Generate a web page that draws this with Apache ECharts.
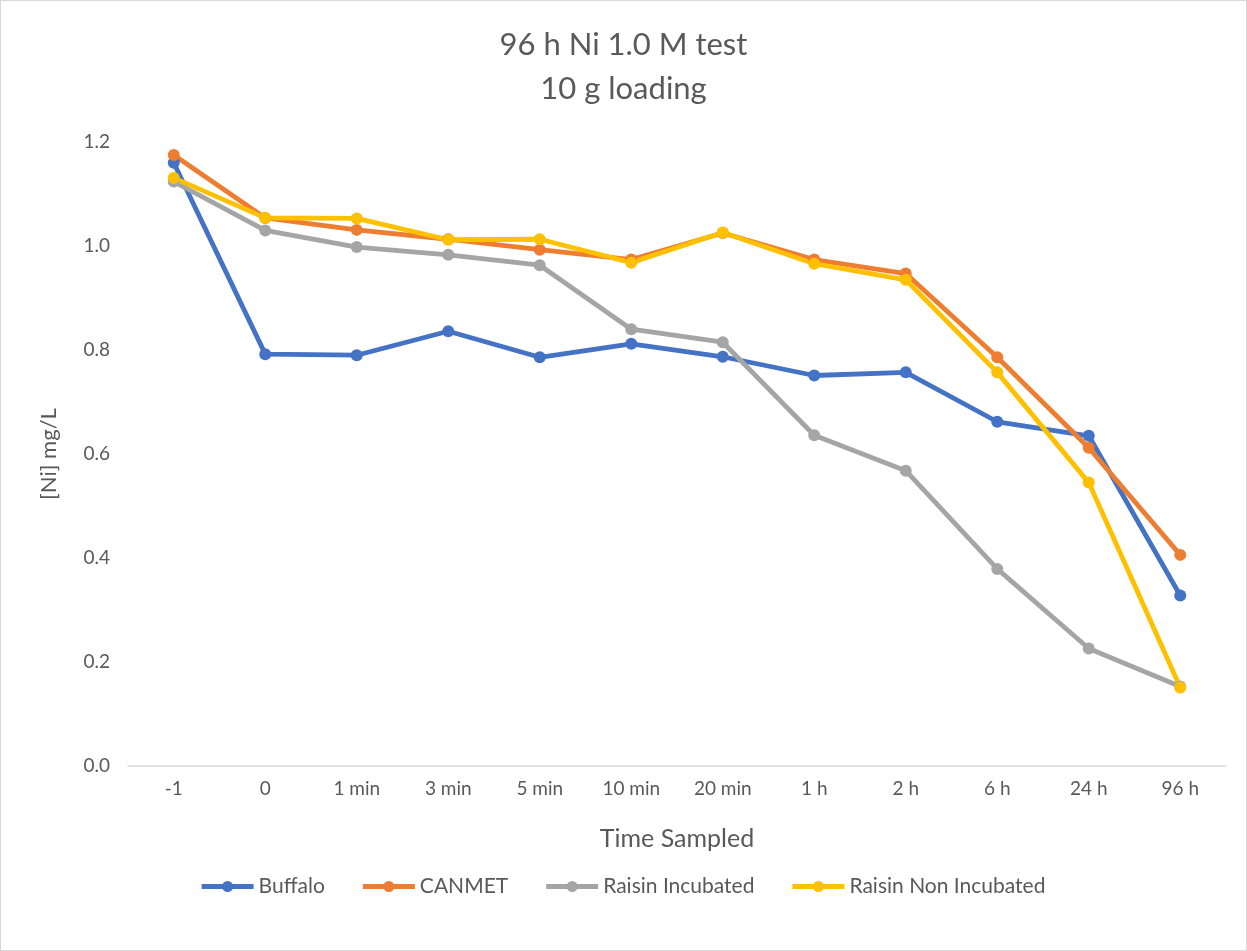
<!DOCTYPE html>
<html>
<head>
<meta charset="utf-8">
<script src="https://cdn.jsdelivr.net/npm/echarts@6/dist/echarts.min.js"></script>
<style>
html,body{margin:0;padding:0;background:#fff;}
#wrap{position:absolute;left:0;top:0;width:1245px;height:949px;border:1px solid #d9d9d9;}
#chart{width:1245px;height:949px;}
</style>
</head>
<body>
<div id="wrap"><div id="chart"></div></div>
<script>
const categories = ['-1','0','1 min','3 min','5 min','10 min','20 min','1 h','2 h','6 h','24 h','96 h'];
const buffalo = [1.160,0.792,0.790,0.836,0.786,0.812,0.787,0.751,0.757,0.662,0.635,0.328];
const canmet = [1.175,1.054,1.031,1.013,0.993,0.974,1.025,0.974,0.947,0.786,0.612,0.406];
const raisinInc = [1.124,1.030,0.998,0.983,0.963,0.840,0.815,0.636,0.568,0.379,0.226,0.153];
const raisinNonInc = [1.131,1.054,1.053,1.012,1.013,0.968,1.026,0.966,0.935,0.757,0.545,0.151];
const yTicks = [0,0.2,0.4,0.6,0.8,1.0,1.2];

const FONT = 'Lato, "Open Sans", sans-serif';
const TXT = '#595959';
const LEG_ICON = 'path://M0,3.6H52V8.4H0Z M20.5,6a5.5,5.5 0 1,1 11,0a5.5,5.5 0 1,1 -11,0Z';
function mk(name, data, color){
  return {name, type:'line', data, symbol:'circle', symbolSize:12,
    lineStyle:{width:4.8,color}, itemStyle:{color}, emphasis:{disabled:true}};
}
const chart = echarts.init(document.getElementById('chart'));
chart.setOption({
  animation:false,
  textStyle:{fontFamily:FONT},
  title:{text:'96 h Ni 1.0 M test\n10 g loading', left:'center', top:17,
    textStyle:{fontFamily:FONT, fontSize:31, fontWeight:'normal', color:TXT, lineHeight:44}},
  grid:{left:127, right:20, top:141, bottom:184},
  xAxis:{type:'category', data:categories, boundaryGap:true,
    axisLine:{lineStyle:{color:'#d9d9d9', width:1.5}}, axisTick:{show:false},
    axisLabel:{color:TXT, fontSize:19, margin:13, fontFamily:FONT},
    name:'Time Sampled', nameLocation:'middle', nameGap:60,
    nameTextStyle:{color:TXT, fontSize:25, fontFamily:FONT}},
  yAxis:{type:'value', min:yTicks[0], max:yTicks[yTicks.length-1], interval:0.2,
    splitLine:{show:false}, axisLine:{show:false}, axisTick:{show:false},
    axisLabel:{color:TXT, fontSize:19, margin:18, fontFamily:FONT, formatter:v=>v.toFixed(1)},
    name:'[Ni] mg/L', nameLocation:'middle', nameGap:68,
    nameTextStyle:{color:TXT, fontSize:22, fontFamily:FONT}},
  legend:{bottom:48, left:'center', itemWidth:52, itemHeight:12, itemGap:38,
    icon:LEG_ICON,
    textStyle:{color:TXT, fontSize:21, fontFamily:FONT},
    data:['Buffalo','CANMET','Raisin Incubated','Raisin Non Incubated']},
  series:[
    mk('Buffalo', buffalo, '#4472C4'),
    mk('CANMET', canmet, '#ED7D31'),
    mk('Raisin Incubated', raisinInc, '#A5A5A5'),
    mk('Raisin Non Incubated', raisinNonInc, '#FFC000')
  ]
});
</script>
</body>
</html>
